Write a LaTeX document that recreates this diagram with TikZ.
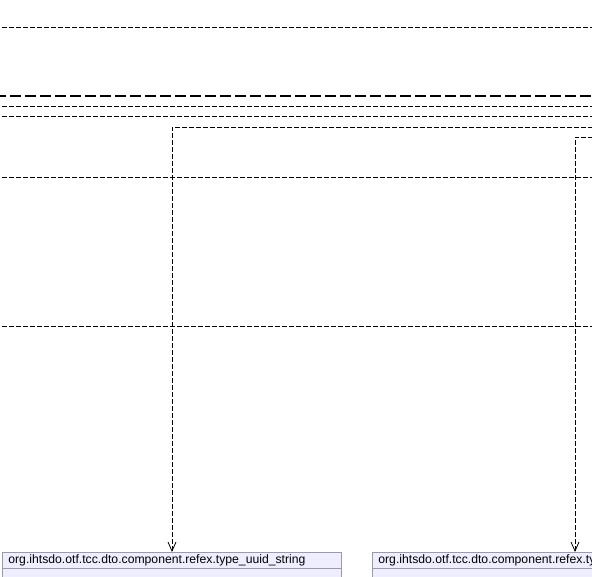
\documentclass[tikz,border=0pt]{standalone}
\usepackage{fontspec}
\setmainfont{Liberation Sans}
\usetikzlibrary{arrows.meta}
\begin{document}
\begin{tikzpicture}[x=1pt,y=-1pt,
  dep/.style={draw=black, line width=0.8pt, dash pattern=on 5pt off 2pt},
  thickdep/.style={draw=black, line width=1.8pt, dash pattern=on 11pt off 4pt},
  arr/.style={-{Straight Barb[length=9pt,width=8pt,line width=0.8pt]}},
  classhead/.style={draw=boxline, fill=boxfill, line width=0.8pt, anchor=north west,
     minimum height=16pt, inner sep=0pt, text height=9pt, text depth=2.5pt,
     font=\fontsize{12.2}{14}\selectfont, align=left, text width=#1, inner xsep=6pt},
  classbody/.style={draw=boxline, fill=boxfill, line width=0.8pt}
]
\definecolor{boxfill}{HTML}{EEEEFF}
\definecolor{boxline}{HTML}{9A9AAA}
\useasboundingbox (0,0) rectangle (592,576);
% long horizontal dependency lines
\coordinate (l1a) at (-5,27);  \coordinate (l1b) at (600,27);
\coordinate (l2a) at (-5,96);  \coordinate (l2b) at (600,96);
\coordinate (l3a) at (-5,106); \coordinate (l3b) at (600,106);
\coordinate (l4a) at (-5,116); \coordinate (l4b) at (600,116);
\coordinate (l5a) at (-5,177); \coordinate (l5b) at (600,177);
\coordinate (l6a) at (-5,326); \coordinate (l6b) at (600,326);
\draw[dep] (l1a) -- (l1b);
\draw[thickdep] (l2a) -- (l2b);
\draw[dep] (l3a) -- (l3b);
\draw[dep] (l4a) -- (l4b);
\draw[dep] (l5a) -- (l5b);
\draw[dep] (l6a) -- (l6b);
% class boxes
\draw[classbody] (2,568) rectangle (341,590);
\node[classhead=327pt] (uuidstr) at (2,552) {org.ihtsdo.otf.tcc.dto.component.refex.type\_uuid\_string};
\draw[classbody] (372,568) rectangle (720,590);
\node[classhead=336pt] (other) at (372,552) {org.ihtsdo.otf.tcc.dto.component.refex.type\_uuid\_uuid};
% connectors
\coordinate (c1) at (600,127);
\coordinate (c2) at (600,137);
\draw[dep, arr] (c1) -| (uuidstr.north west -| 172,0);
\draw[dep, arr] (c2) -| (other.north west -| 575,0);
\end{tikzpicture}
\end{document}
